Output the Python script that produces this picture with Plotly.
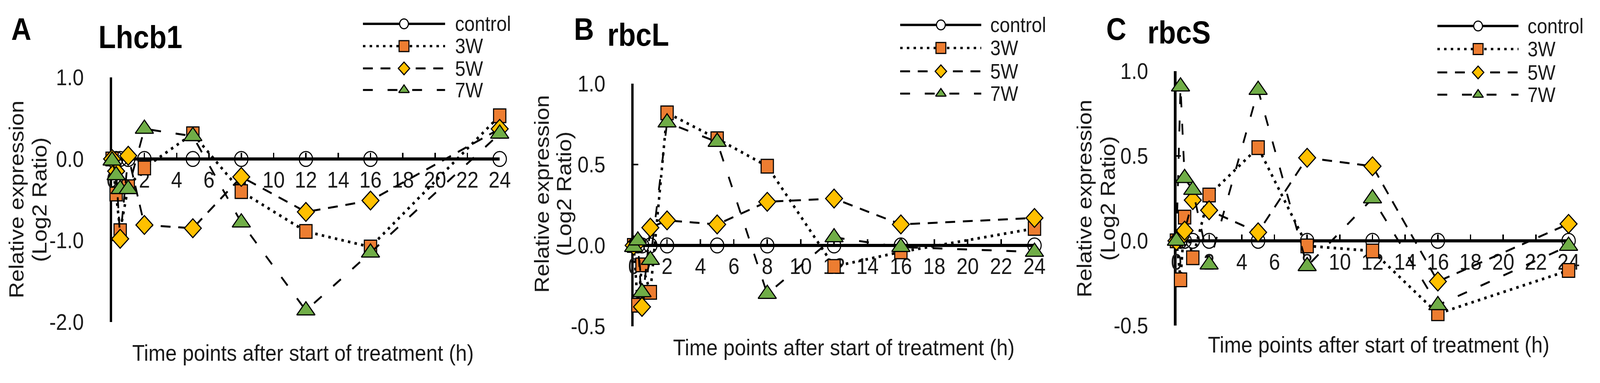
import plotly.graph_objects as go

# ---------------- data ----------------
times = [0, 0.25, 0.5, 1, 2, 5, 8, 12, 16, 24]
x_tick_vals = [0, 2, 4, 6, 8, 10, 12, 14, 16, 18, 20, 22, 24]

series_names = ["control", "3W", "5W", "7W"]

control = [0, 0, 0, 0, 0, 0, 0, 0, 0, 0]

lhcb1_3w = [0, -0.43, -0.88, -0.34, -0.11, 0.31, -0.40, -0.89, -1.08, 0.53]
lhcb1_5w = [0, -0.15, -0.98, 0.04, -0.81, -0.85, -0.22, -0.65, -0.51, 0.37]
lhcb1_7w = [-0.02, -0.20, -0.37, -0.37, 0.37, 0.28, -0.78, -1.86, -1.15, 0.31]

rbcl_3w = [0, -0.37, -0.12, -0.29, 0.82, 0.66, 0.49, -0.13, -0.04, 0.105]
rbcl_5w = [0, 0.02, -0.38, 0.11, 0.155, 0.13, 0.27, 0.29, 0.13, 0.17]
rbcl_7w = [-0.01, 0.03, -0.29, -0.09, 0.76, 0.64, -0.30, 0.05, -0.01, -0.04]

rbcs_3w = [0, -0.23, 0.14, -0.10, 0.27, 0.55, -0.03, -0.06, -0.43, -0.175]
rbcs_5w = [0, 0.02, 0.06, 0.24, 0.18, 0.05, 0.49, 0.44, -0.24, 0.10]
rbcs_7w = [0, 0.91, 0.37, 0.30, -0.14, 0.89, -0.15, 0.25, -0.38, -0.03]

lhcb1_yticks = [1.0, 0.0, -1.0, -2.0]
lhcb1_yticktext = ["1.0", "0.0", "-1.0", "-2.0"]
rbc_yticks = [1.0, 0.5, 0.0, -0.5]
rbc_yticktext = ["1.0", "0.5", "0.0", "-0.5"]

panel_letters = ["A", "B", "C"]
gene_names = ["Lhcb1", "rbcL", "rbcS"]
x_title = "Time points after start of treatment (h)"
y_title_1 = "Relative expression"
y_title_2 = "(Log2 Ratio)"

# ---------------- style / layout ----------------
W, H = 4550, 980
FONT = "Liberation Sans, Arial, sans-serif"
ORANGE = "#ED7D31"
GOLD = "#FFC000"
GREEN = "#70AD47"

styles = {
    "control": dict(dash="solid", lw=8, symbol="circle-open", size=38, color="black", lsize=25),
    "3W": dict(dash="7px,12px", lw=7, symbol="square", size=35, color=ORANGE, lsize=28),
    "5W": dict(dash="28px,22px", lw=5, symbol="diamond", size=37, color=GOLD, lsize=25),
    "7W": dict(dash="28px,42px", lw=5, symbol="triangle-up", size=45, color=GREEN, lsize=26),
}

panels = [
    dict(data=[control, lhcb1_3w, lhcb1_5w, lhcb1_7w], yr=[-2, 1], yt=lhcb1_yticks, ytt=lhcb1_yticktext,
         px=(306, 1420), py=(178, 847),
         letter=(45, 45), gene=(388, 67),
         xt=(855, 931), yt1=(30, 512), yt2=(97, 512),
         leg=dict(x0=1027, x1=1263, xm=1145, xt=1290, rows=[31, 92, 153, 212])),
    dict(data=[control, rbcl_3w, rbcl_5w, rbcl_7w], yr=[-0.5, 1], yt=rbc_yticks, ytt=rbc_yticktext,
         px=(1805, 2957), py=(195, 859),
         letter=(1662, 45), gene=(1818, 61),
         xt=(2409, 916), yt1=(1541, 497), yt2=(1605, 497),
         leg=dict(x0=2571, x1=2804, xm=2688, xt=2828, rows=[34, 97, 161, 222])),
    dict(data=[control, rbcs_3w, rbcs_5w, rbcs_7w], yr=[-0.5, 1], yt=rbc_yticks, ytt=rbc_yticktext,
         px=(3365, 4492), py=(161, 857),
         letter=(3192, 46), gene=(3373, 55),
         xt=(3946, 909), yt1=(3100, 509), yt2=(3168, 509),
         leg=dict(x0=4115, x1=4348, xm=4232, xt=4372, rows=[37, 100, 164, 225])),
]

fig = go.Figure()
layout = dict(width=W, height=H, margin=dict(l=0, r=0, t=0, b=0),
              paper_bgcolor="white", plot_bgcolor="rgba(0,0,0,0)", showlegend=False,
              font=dict(family=FONT, color="#111111"))
annotations = []

def fx(p):
    return p / W

def fy(p):
    return 1 - p / H

for i, pn in enumerate(panels):
    k = "" if i == 0 else str(i + 1)
    xa, ya = "x" + k, "y" + k
    for name, vals in zip(series_names, pn["data"]):
        s = styles[name]
        if name == "control":
            marker = dict(symbol=s["symbol"], size=s["size"], color="black", line=dict(width=3, color="black"))
        else:
            marker = dict(symbol=s["symbol"], size=s["size"], color=s["color"], line=dict(width=3, color="black"))
        fig.add_trace(go.Scatter(x=times, y=vals, mode="lines+markers", name=name,
                                 line=dict(color="black", width=s["lw"], dash=s["dash"]),
                                 marker=marker, cliponaxis=False, xaxis=xa, yaxis=ya))
    ydom = [fy(pn["py"][1]), fy(pn["py"][0])]
    y0, y1 = pn["yr"]
    xpos = ydom[0] + (0 - y0) / (y1 - y0) * (ydom[1] - ydom[0])
    layout["xaxis" + k] = dict(domain=[fx(pn["px"][0]), fx(pn["px"][1])], range=[0, 24],
                               anchor="free", position=xpos, tickvals=x_tick_vals,
                               ticks="inside", ticklen=13, tickwidth=4, tickcolor="black",
                               showline=True, linewidth=6, linecolor="black",
                               showgrid=False, zeroline=False, layer="below traces",
                               tickfont=dict(size=57, family=FONT, color="#1a1a1a"),
                               ticklabelstandoff=2)
    layout["yaxis" + k] = dict(domain=ydom, range=pn["yr"], anchor=xa,
                               tickvals=pn["yt"], ticktext=pn["ytt"],
                               ticks="inside", ticklen=13, tickwidth=4, tickcolor="black",
                               showline=True, linewidth=7, linecolor="black",
                               showgrid=False, zeroline=False, layer="below traces",
                               tickfont=dict(size=57, family=FONT, color="#1a1a1a"),
                               ticklabelstandoff=62)
    # texts
    annotations.append(dict(text="<b>%s</b>" % panel_letters[i], x=fx(pn["letter"][0]), y=fy(pn["letter"][1]),
                            xref="paper", yref="paper", showarrow=False, xanchor="center", yanchor="middle",
                            font=dict(size=79, family=FONT, color="black")))
    annotations.append(dict(text="<b>%s</b>" % gene_names[i], x=fx(pn["gene"][0]), y=fy(pn["gene"][1]),
                            xref="paper", yref="paper", showarrow=False, xanchor="center", yanchor="middle",
                            font=dict(size=81, family=FONT, color="black")))
    annotations.append(dict(text=x_title, x=fx(pn["xt"][0]), y=fy(pn["xt"][1]),
                            xref="paper", yref="paper", showarrow=False, xanchor="center", yanchor="middle",
                            font=dict(size=58, family=FONT, color="#1a1a1a")))
    for txt, pos in ((y_title_1, pn["yt1"]), (y_title_2, pn["yt2"])):
        annotations.append(dict(text=txt, x=fx(pos[0]), y=fy(pos[1]), textangle=-90,
                                xref="paper", yref="paper", showarrow=False, xanchor="center", yanchor="middle",
                                font=dict(size=58, family=FONT, color="#1a1a1a")))
    # legend (drawn manually on a pixel overlay axis)
    lg = pn["leg"]
    for name, row in zip(series_names, lg["rows"]):
        s = styles[name]
        fig.add_trace(go.Scatter(x=[lg["x0"], lg["x1"]], y=[row, row], mode="lines",
                                 line=dict(color="black", width=min(s["lw"], 6), dash=s["dash"]),
                                 hoverinfo="skip", xaxis="x4", yaxis="y4"))
        if name == "control":
            mk = dict(symbol="circle", size=s["lsize"], color="white", line=dict(width=3, color="black"))
        else:
            mk = dict(symbol=s["symbol"], size=s["lsize"], color=s["color"], line=dict(width=3, color="black"))
        fig.add_trace(go.Scatter(x=[lg["xm"]], y=[row], mode="markers", marker=mk,
                                 hoverinfo="skip", cliponaxis=False, xaxis="x4", yaxis="y4"))
        annotations.append(dict(text=name, x=fx(lg["xt"]), y=fy(row), xref="paper", yref="paper",
                                showarrow=False, xanchor="left", yanchor="middle",
                                font=dict(size=53, family=FONT, color="#1a1a1a")))

layout["xaxis4"] = dict(domain=[0, 1], range=[0, W], anchor="y4", visible=False, fixedrange=True)
layout["yaxis4"] = dict(domain=[0, 1], range=[H, 0], anchor="x4", visible=False, fixedrange=True)
layout["annotations"] = annotations
fig.update_layout(**layout)

# stretch the fixed-size figure so it fills whatever viewport the page is opened in
fit_js = """
(function(){
  var gd = document.getElementById('{plot_id}');
  var de = document.documentElement, b = document.body;
  de.style.margin = '0'; de.style.padding = '0'; de.style.overflow = 'hidden';
  b.style.margin = '0'; b.style.padding = '0'; b.style.overflow = 'hidden';
  var vw = window.innerWidth || de.clientWidth, vh = window.innerHeight || de.clientHeight;
  var sx = vw / %d, sy = vh / %d;
  var wrap = gd.parentElement;
  wrap.style.width = vw + 'px'; wrap.style.height = vh + 'px';
  wrap.style.overflow = 'hidden';
  gd.style.transformOrigin = '0 0';
  gd.style.transform = 'scale(' + sx + ',' + sy + ')';
})();
""" % (W, H)

fig.write_html("out.html", post_script=fit_js, config={"displayModeBar": False})
